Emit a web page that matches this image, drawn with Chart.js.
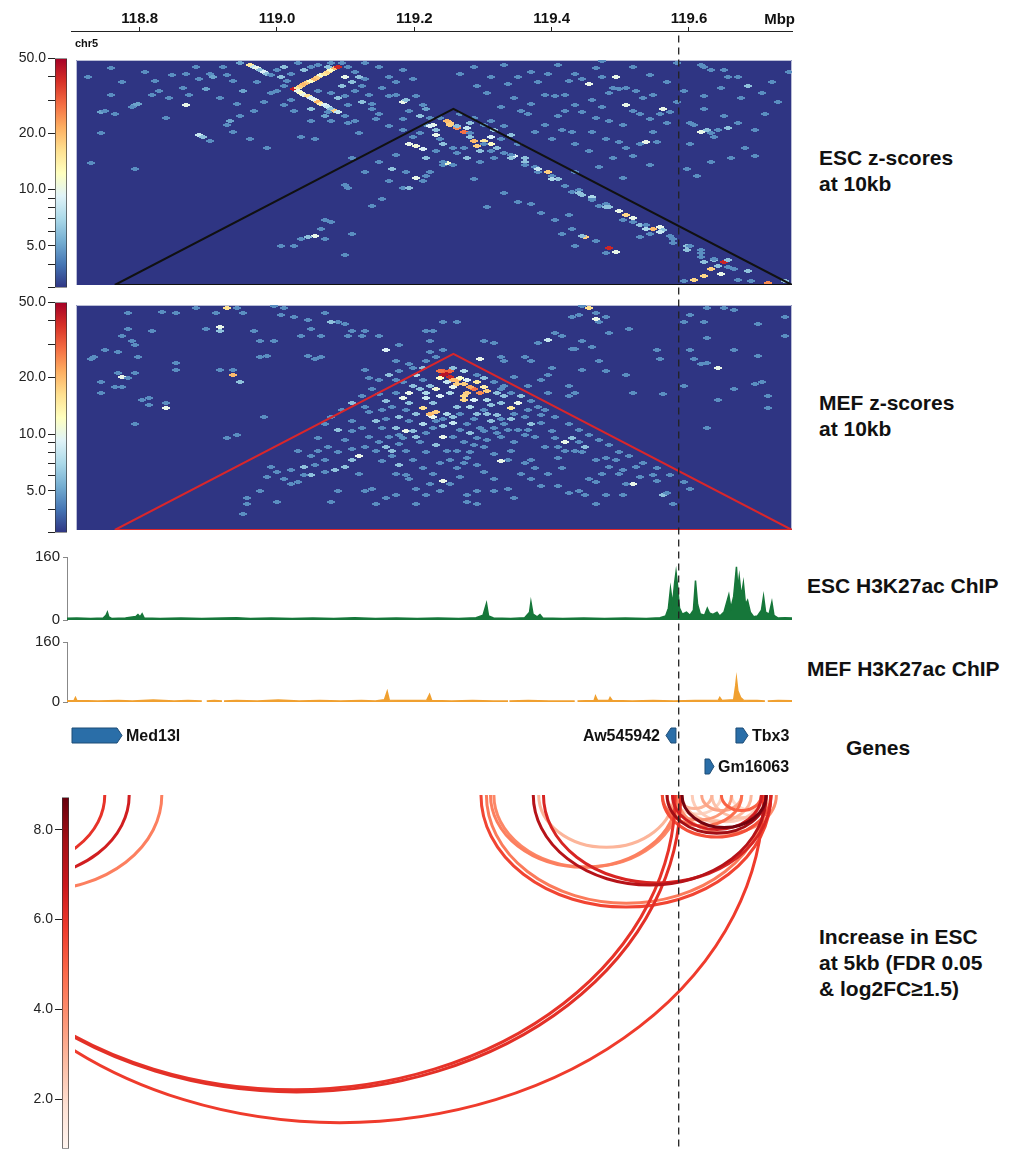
<!DOCTYPE html>
<html>
<head>
<meta charset="utf-8">
<script src="https://cdn.jsdelivr.net/npm/chart.js@4.4.1/dist/chart.umd.min.js"></script>
<style>
html, body { margin: 0; padding: 0; background: #fff; }
#page { position: relative; width: 1020px; height: 1151px; overflow: hidden; background: #fff;
        font-family: 'Liberation Sans', Arial, sans-serif; }
#page canvas { position: absolute; }
.lbl { position: absolute; font-weight: bold; font-size: 21px; line-height: 26px; color: #111; white-space: nowrap; }
</style>
</head>
<body>
<div id="page">
  <div class="lbl" style="left:819px;top:145px">ESC z-scores<br>at 10kb</div>
  <div class="lbl" style="left:819px;top:390px">MEF z-scores<br>at 10kb</div>
  <div class="lbl" style="left:807px;top:573px">ESC H3K27ac ChIP</div>
  <div class="lbl" style="left:807px;top:656px">MEF H3K27ac ChIP</div>
  <div class="lbl" style="left:846px;top:735px">Genes</div>
  <div class="lbl" style="left:819px;top:924px">Increase in ESC<br>at 5kb (FDR 0.05<br>&amp; log2FC≥1.5)</div>
</div>
<script>
// ---- region / axis
const X_START = 118.70, X_END = 119.75;
const AXIS_LEFT = 71, AXIS_RIGHT = 792;
const axisTicks = [118.8, 119.0, 119.2, 119.4, 119.6];
const DASH_POS = 119.585;
const BIN = 0.01;

// ---- hi-c z-scores, cells as [midpoint bin from X_START, distance in bins, z]
const HEAT_DEPTH = 1.277;
const tadStart = 118.75, tadEnd = 119.75;
const Z_MIN = 3, Z_MAX = 50;
const zTicksMajor = [5, 10, 20, 50];
const zTicksMinor = [3, 4, 6, 7, 8, 9, 30, 40];

const escCells = [
  [4.5,123,4.5],[13.5,119,4.5],[15.5,120,4.5],[19,120,4.5],[19.5,118,5],[21.5,119,4.5],[22.5,116,4.5],[17.5,117,4.5],[15,112,4.5],[4.5,108,4.5],
  [8,102,5],[8.5,103,5],[7.5,101,4.5],[3,98,5],[3.5,99,4.5],[5,97,4.5],[10.5,108,4.5],[11.5,110,4.5],[15.5,102,10],[12.5,95,4.5],
  [3,86,4.5],[1.5,69,4.5],[8,66,4.5],[17.5,85,8],[18,84,6],[19,82,4.5],[21.5,91,4.5],[22,93,5],[23.5,96,4.5],[22.5,87,4.5],
  [25,83,4.5],[27.5,78,4.5],[28,109,4.5],[25.5,99,4.5],[31.5,99,4.5],[32.5,84,4.5],[34.5,83,4.5],[34,93,4.5],[36,96,5],[37,93,4.5],
  [39.5,92,4.5],[40.5,93,4.5],[41,86,4.5],[43.5,94,4.5],[44,97,4.5],[45.5,107,4.5],[45.5,118,4.5],[49,117,4.5],[46.5,108,4.5],[47.5,104,10],
  [48,105,6],[49.5,107,4.5],[50.5,102,4.5],[51,100,5],[47.5,94,4.5],[51,91,4.5],
  [1,118,4.5],[6,115,4.5],[9.5,121,4.5],[11,116,4.5],[13,106,4.5],[16,108,4.5],[18.5,111,5],[20.5,106,4.5],[23,103,4.5],[24,110,5],
  [26,115,4.5],[27,104,4.5],[23.5,126,5],[21,124,4.5],[17,124,4.5],
  [31.5,111,42],[32,112,15],[32.5,113,18],[33,114,20],[33.5,115,18],[34,116,12],[34.5,117,20],[35,118,18],[35.5,119,11],[36,120,15],[36.5,121,17],[37,122,12],[37.5,123,20],[38,124,40],
  [32,110,10],[32.5,109,12],[33,108,10],[33.5,107,16],[34,106,9],[34.5,105,10],[35,104,20],[35.5,103,14],[36,102,9],[36.5,101,8],[37,100,6],[37.5,99,18],[38,98,8],
  [25,125,15],[25.5,124,8],[26,123,10],[26.5,122,6],[27,121,9],[27.5,120,6],
  [35,110,4.5],[37,109,4.5],[38,106,6],[39,107,4.5],[40.5,110,4.5],[41,118,6],[42,117,4.5],[40.5,121,4.5],[39,118,10],[38.5,126,4.5],
  [37,126,4.5],[35,125,4.5],[32,126,4.5],[29,122,4.5],[29.5,118,6],[30.5,116,4.5],[28,119,4.5],
  [30,124,6],[31,120,4.5],[33,122,6],[34,124,4.5],[36.5,124,6],[39.5,124,4.5],[40,115,6],[41.5,113,4.5],[42.5,108,4.5],[43,103,4.5],
  [41.5,104,6],[39.5,102,4.5],[38.5,113,6],[30,113,4.5],[29,110,4.5],[31,105,4.5],[30,102,4.5],[34,100,6],[36.5,98,4.5],[39,96,4.5],
  [43,100,4.5],[44.5,112,4.5],[46.5,115,4.5],[47.5,122,4.5],[44,124,4.5],[42,126,4.5],
  [48.5,99,4.5],[50,96,6],[51.5,95,4.5],[52.5,88,6],[50,86,4.5],[47.5,88,4.5],[45.5,90,4.5],[49,84,4.5],[53.5,80,6],[55,78,4.5],
  [51,72,6],[46.5,74,4.5],[44,70,4.5],[42,64,4.5],[46,66,6],
  [48.5,80,10],[49.5,79,11],[50.5,77,9],[49.5,61,10],[52.5,76,4.5],[53.5,68,4.5],[54,69,11],[52,91,10],[54.5,92,18],[53,83,4.5],
  [48,64,4.5],[51,62,4.5],[50.5,59,4.5],[45.5,59,4.5],[47.5,55,4.5],[48.5,55,6],[44.5,49,4.5],[43,45,4.5],[40,72,4.5],[39,57,4.5],[39.5,55,4.5],
  [36,37,4.5],[37,36,4.5],[35.5,32,4.5],[34.5,28,10],[33.5,27,6],[32.5,26,4.5],[31.5,22,4.5],[29.5,22,4.5],[36,26,4.5],[39,17,4.5],[40,29,4.5],
  [54,93,20],[54.5,91,18],[55.5,89,25],[56.5,87,28],[58,82,20],[58.5,79,18],[59.5,82,15],[60.5,80,12],[52.5,85,10],[51.5,90,9],
  [58,95,4.5],[59.5,91,4.5],[61,88,6],[62,83,4.5],[60.5,76,4.5],[59,76,6],[56.5,78,4.5],[55.5,75,4.5],[53.5,70,4.5],[51.5,64,4.5],
  [56,97,4.5],[57.5,92,6],[60.5,93,4.5],[62.5,90,4.5],[63.5,85,6],[64.5,80,4.5],[61,72,4.5],[59,70,4.5],[57,72,6],[55,68,4.5],
  [60.5,84,9],[57,89,8],[53,95,4.5],
  [62.5,75,4.5],[64,73,9],[65.5,72,6],[67,67,4.5],[67.5,64,4.5],[69,64,18],[70.5,60,6],[71.5,56,4.5],[72.5,53,4.5],[74,51,6],
  [75.5,49,4.5],[76.5,45,4.5],[78,44,6],[79.5,42,10],[80.5,40,17],[81.5,38,10],[80,37,4.5],[82.5,34,6],[84.5,32,20],[85.5,33,10],
  [86,31,6],[84,29,4.5],[82.5,27,4.5],[87,28,4.5],[74.5,27,18],[74,28,6],[76,25,4.5],[78,21,40],[79,19,10],[77.5,18,4.5],
  [72.5,32,4.5],[71,29,4.5],[73,22,4.5],[68,41,4.5],[62.5,52,4.5],[64.5,47,4.5],[58,60,4.5],
  [55.5,90,6],[57.5,86,4.5],[61.5,78,6],[63.5,74,4.5],[65.5,70,6],[67.5,66,8],[69.5,62,4.5],[73.5,54,4.5],[75.5,50,7],[77.5,46,4.5],
  [83.5,34,4.5],[85.5,30,8],[87.5,26,4.5],[89.5,22,6],[91.5,18,4.5],[93.5,14,6],[95.5,10,4.5],
  [57.5,84,6],[59.5,80,4.5],[63.5,72,6],[65.5,68,4.5],[69.5,60,7],[73.5,52,6],[75.5,48,4.5],[77.5,44,6],[81.5,36,4.5],[83.5,32,7],[87.5,24,4.5],[89.5,20,6],[91.5,16,4.5],
  [90,22,4.5],[91.5,20,4.5],[92,13,6],[93,9,18],[94,11,6],[95,13,40],[95.5,14,6],[93.5,15,4.5],[96.5,9,4.5],[92,5,17],
  [90.5,3,17],[89,2,4.5],[101.5,1,25],[104,2,6],[97,3,4.5],[99,2,4.5],[98.5,8,6],[94.5,6,10],
  [62.5,125,4.5],[58.5,113,4.5],[60,109,4.5],[68.5,108,4.5],[70,107,4.5],[71.5,108,4.5],[73,120,4.5],[74,117,4.5],[75,114,10],[76,123,4.5],
  [77,118,4.5],[77,127,4.5],[79,118,10],[78.5,112,4.5],[79.5,111,4.5],[78,109,4.5],[80.5,112,4.5],[82,110,4.5],[83,106,4.5],[84.5,108,4.5],
  [80.5,102,10],[86,100,10],[85.5,97,4.5],[87,98,4.5],[76,95,4.5],[78,93,4.5],[80,91,4.5],[81.5,99,4.5],[73,102,4.5],[74,98,4.5],
  [71.5,99,4.5],[70.5,96,4.5],[68.5,91,4.5],[66,97,4.5],[65,99,4.5],[71,88,4.5],[72.5,87,4.5],[75.5,87,4.5],[77.5,83,4.5],[79.5,81,4.5],
  [80.5,78,4.5],[82.5,80,4.5],[83.5,81,10],[85,81,4.5],[84.5,87,4.5],[81.5,73,4.5],[84,68,4.5],[80,61,4.5],[73,64,4.5],
  [56,120,4.5],[58,124,4.5],[60.5,118,4.5],[63,114,4.5],[64.5,118,4.5],[66.5,121,4.5],[67.5,115,4.5],[69,120,4.5],[70.5,125,4.5],[72,116,4.5],
  [75.5,105,4.5],[77,101,4.5],[82.5,97,4.5],[84,94,4.5],[86.5,92,4.5],[88,104,4.5],[89,110,4.5],[86.5,115,4.5],[84,119,4.5],[81.5,124,4.5],
  [88,126,4.5],[66.5,103,4.5],[64,106,4.5],[62,101,4.5],[67,87,4.5],[69.5,83,4.5],[73,80,4.5],[75,76,4.5],[78.5,72,4.5],[76.5,67,4.5],
  [90,92,4.5],[90.5,91,4.5],[91.5,87,10],[92.5,88,6],[93,86,4.5],[94,88,4.5],[95.5,89,6],[93.5,84,4.5],[90,80,4.5],[89.5,66,4.5],
  [98,78,4.5],[99.5,73,4.5],[98.5,113,6],[97.5,106,4.5],[91.5,125,4.5],[92,124,4.5],[93,122,4.5],[95,122,4.5],[95.5,118,4.5],[104.5,121,4.5],
  [92,100,4.5],[95,96,4.5],[97,92,4.5],[99.5,88,4.5],[101,97,4.5],[103,104,4.5],[100.5,109,4.5],[102,115,4.5],[97,118,4.5],[94.5,112,4.5],
  [92,107,4.5],[96,72,4.5],[93,70,4.5],[91,62,4.5],
  [70,37,4.5],[72,40,4.5],[66.5,46,4.5],[60,44,4.5]
];

const mefCells = [
  [54,89,45],[54.5,87,40],[53.5,90,30],[55.5,85,20],[56.5,83,18],[58,80,28],[59,78,25],[57,78,18],[56.5,76,17],[56.5,74,17],
  [60,79,18],[55,81,10],[52.5,67,18],[51.5,65,10],[52,64,10],[63.5,69,15],[64.5,72,10],[62.5,76,6],[60.5,71,6],[62,72,6],
  [53.5,88,45],[54.5,90,30],[53,90,28],[55,85,20],[57.5,81,22],[58.5,84,15],[55.5,83,18],[56,86,12],[59.5,81,14],[57,85,9],
  [54,84,8],[53,86,12],[51.5,66,20],[48.5,78,10],[47.5,75,10],[48.5,72,6],[50.5,69,16],[51.5,82,6],[53.5,53,10],[48,56,10],
  [49,56,6],[47,54,4.5],[45.5,53,4.5],[44,50,4.5],
  [50,80,6],[50.5,85,4.5],[49.5,88,7],[51,75,8],[52,72,6],[53,76,9],[54.5,78,7],[55.5,70,6],[56,66,4.5],[57.5,70,7],
  [58.5,66,6],[59.5,68,4.5],[60.5,62,6],[57,60,4.5],[55,61,8],[53.5,59,6],[52,58,4.5],[50.5,60,7],[49.5,66,6],[48,68,4.5],
  [47,64,6],[46,70,4.5],[45,73,6],[44.5,68,4.5],[46.5,78,4.5],[61.5,65,6],[62.5,60,4.5],[63.5,63,6],[65.5,64,4.5],[66.5,60,6],
  [64.5,57,4.5],[60,74,7],[61.5,78,6],[58,74,9],[52.5,80,11],[51,78,7],[49,82,6],[47.5,84,4.5],[56.5,90,7],[55,92,6],[58.5,88,4.5],
  [44,85,4.5],[45.5,88,6],[47,90,4.5],[48.5,94,4.5],[50.5,92,6],[43,80,4.5],[41.5,76,4.5],[40,72,6],[38.5,68,4.5],[37,64,4.5],
  [36,60,4.5],[38,57,6],[40,62,4.5],[42,70,4.5],[43.5,62,6],[44.5,58,4.5],[46.5,58,6],[48.5,62,4.5],[47,49,4.5],[45,47,6],
  [42,47,4.5],[40,46,4.5],[38,44,4.5],[36,40,4.5],[34.5,37,4.5],[33,36,6],[31,34,4.5],[29,33,4.5],[28,36,4.5],[44.5,39,4.5],
  [47,37,6],[49,40,4.5],[51,44,4.5],[52.5,48,6],[50,50,4.5],[48,45,4.5],[46,42,4.5],[50.5,35,4.5],[48,31,4.5],[52,32,4.5],
  [55.5,35,4.5],[57.5,44,4.5],[59.5,47,4.5],[60,51,4.5],[63,57,4.5],[66,57,4.5],[68,61,4.5],[69.5,56,4.5],[70,52,4.5],[68,65,4.5],
  [66,68,4.5],[64,66,4.5],[62,63,4.5],[60,66,6],[58,63,4.5],[59,58,4.5],[61.5,55,4.5],[57.5,55,6],[56,57,4.5],[55,64,6],
  [53.5,63,4.5],[54,66,7],[52.5,62,4.5],[51,55,4.5],[49.5,53,6],[47.5,52,4.5],[59.5,86,6],[61,84,4.5],[62.5,82,4.5],[63.5,78,4.5],
  [65,76,6],[66.5,73,4.5],[67.5,70,4.5],[68.5,68,4.5],[70,64,4.5],[72,60,4.5],[73.5,57,4.5],[75,54,4.5],[76.5,51,4.5],[78,48,4.5],
  [79.5,44,4.5],[81,42,4.5],[83,38,4.5],[85,35,4.5],[87,31,4.5],[89,27,4.5],[90,23,4.5],[85,28,4.5],[82.5,30,4.5],[80,34,4.5],
  [78,36,4.5],[71,35,4.5],[69,32,4.5],[67,35,4.5],
  [41,42,10],[40,40,6],[39,36,6],[37.5,34,6],[36,33,4.5],[34,31,6],[33,31,4.5],[32,27,4.5],[31,26,4.5],[30,29,4.5],
  [27.5,30,4.5],[26.5,22,4.5],[29,16,4.5],[24.5,18,4.5],[24.5,15,4.5],[24,9,4.5],[37,16,4.5],[42,22,4.5],[43.5,15,4.5],[46.5,32,4.5],
  [48.5,29,4.5],[49.5,23,4.5],[51.5,26,4.5],[53.5,28,10],[53,22,4.5],[51,20,4.5],[49.5,15,4.5],[46.5,20,4.5],[45,18,4.5],[43,23,4.5],
  [41,32,4.5],[38,22,4.5],[43.5,45,4.5],[46,45,6],[42.5,53,4.5],[41.5,58,4.5],[40,56,4.5],[39,51,4.5],[36.5,47,4.5],[35,45,4.5],[34,42,4.5],[32,45,4.5],
  [7,123,4.5],[12,124,4.5],[14,123,4.5],[17,126,4.5],[20,123,4.5],[21.5,126,16],[23,126,4.5],[24,123,4.5],[28.5,127,4.5],[29.5,122,4.5],
  [30,126,4.5],[31.5,121,4.5],[36,123,4.5],[38,118,4.5],[39,117,4.5],[37,118,6],[33.5,119,4.5],[34,114,4.5],[25.5,113,4.5],[20.5,115,10],
  [20.5,113,6],[18.5,114,4.5],[10.5,113,4.5],[6,110,4.5],[7,114,4.5],[7.5,107,4.5],[8,105,4.5],[2,98,4.5],[1.5,97,4.5],[3.5,102,4.5],
  [5.5,101,4.5],[8.5,98,4.5],[14,95,4.5],[14,91,4.5],[6,87,10],[5.5,89,4.5],[7,86,4.5],[8,89,4.5],[3,84,4.5],[5,81,4.5],
  [6,81,4.5],[3,78,4.5],[9,74,4.5],[10,75,4.5],[12.5,72,4.5],[12.5,69,10],[10,71,4.5],[8,60,4.5],[20.5,91,4.5],[22.5,91,4.5],
  [22.5,88,20],[23.5,84,6],[21.5,52,4.5],[23,54,4.5],[27,64,4.5],[26.5,98,4.5],[27.5,99,4.5],[33.5,99,4.5],[34.5,97,4.5],[35.5,98,4.5],
  [26.5,107,4.5],[28.5,107,4.5],[32.5,110,4.5],[35.5,110,4.5],[40,113,4.5],[39.5,110,4.5],[41.5,110,4.5],[42,113,4.5],[44,110,4.5],[45,102,9],
  [46.5,96,4.5],[42,91,4.5],[42.5,86,4.5],[44,77,4.5],[42.5,67,4.5],[45,63,4.5],[46.5,85,4.5],[49,92,4.5],[51,96,4.5],[51.5,101,4.5],
  [52.5,98,4.5],[53.5,102,4.5],[51,113,4.5],[51.5,107,4.5],[47,105,4.5],[35,52,4.5],
  [52,113,4.5],[53.5,118,4.5],[55.5,118,4.5],[59.5,107,4.5],[61,106,4.5],[59,97,10],[62,98,4.5],[62.5,96,4.5],[65.5,98,4.5],[66.5,96,4.5],
  [68,85,4.5],[66,82,4.5],[64,87,4.5],[62,80,4.5],[69,78,4.5],[72,76,4.5],[73,78,4.5],[72,82,4.5],[74,91,4.5],[72.5,103,4.5],
  [74,107,4.5],[75.5,104,4.5],[76.5,96,4.5],[77.5,90,4.5],[80.5,88,4.5],[81.5,78,4.5],[86,77,4.5],[85,102,4.5],[85.5,97,4.5],[81,114,4.5],
  [78,112,4.5],[76.5,118,4.5],[76,123,4.5],[75,126,16],[74,127,4.5],[77.5,121,4.5],[76,120,10],[72.5,121,4.5],[73.5,122,4.5],[69,108,8],
  [67.5,106,4.5],[70,112,4.5],[71,110,4.5],[73,103,4.5],[69.5,92,4.5],[69,88,4.5],
  [71.5,50,10],[72.5,52,6],[73.5,50,4.5],[74.5,47,6],[74,44,4.5],[73,45,4.5],[70.5,41,4.5],[71.5,45,4.5],[70.5,47,4.5],[76,40,4.5],
  [77.5,41,4.5],[79,40,4.5],[79.5,32,4.5],[77,32,4.5],[75,29,4.5],[76,27,4.5],[81.5,26,10],[80.5,26,4.5],[82,36,4.5],[84.5,31,4.5],
  [86,20,6],[86.5,21,4.5],[87.5,15,4.5],[80,20,4.5],[77.5,20,4.5],[76,15,4.5],[74.5,20,4.5],[73.5,22,4.5],[72,21,4.5],[70.5,25,4.5],
  [68,25,4.5],[66.5,29,4.5],[65,32,4.5],[65.5,38,4.5],[66.5,40,4.5],[68.5,47,4.5],[67,53,4.5],[65.5,54,4.5],[64,50,4.5],[63.5,45,4.5],
  [63,40,4.5],[62,39,10],[61,43,4.5],[62,53,4.5],[61,58,4.5],[59.5,56,4.5],[58.5,52,4.5],[58,48,4.5],[56.5,50,4.5],[55,53,4.5],
  [55.5,45,4.5],[54,45,4.5],[53,38,4.5],[54.5,40,4.5],[56.5,38,4.5],[57,41,4.5],[58.5,37,4.5],[59.5,33,4.5],[56,30,4.5],[54.5,26,4.5],
  [57,20,4.5],[58.5,22,4.5],[61,29,4.5],[61,22,4.5],[63,23,4.5],[64,18,4.5],[58.5,15,4.5],[57,16,4.5],
  [90,122,4.5],[92.5,126,4.5],[95,126,4.5],[96.5,125,4.5],[100,117,4.5],[104,121,4.5],[104,110,4.5],[89,118,4.5],[92,118,4.5],[90,102,4.5],
  [92.5,109,4.5],[96.5,102,4.5],[100,99,4.5],[90.5,97,4.5],[91.5,94,4.5],[92.5,95,4.5],[94,92,10],[100.5,84,4.5],[99.5,83,4.5],[96.5,80,4.5],
  [94,74,4.5],[101.5,76,4.5],[101.5,69,4.5],[92.5,58,4.5],[89,82,4.5]
];

// ---- H3K27ac coverage [position Mbp, signal]
const chipTicks = [0, 160];
const escChip = [
  [118.700,4],[118.720,5],[118.740,4],[118.758,5],[118.762,12],[118.764,20],[118.766,8],[118.770,4],[118.790,5],[118.805,9],
  [118.808,14],[118.811,8],[118.814,16],[118.817,5],[118.840,4],[118.870,5],[118.900,4],[118.930,5],[118.950,6],[118.970,4],
  [119.000,5],[119.030,4],[119.060,5],[119.090,4],[119.120,6],[119.150,4],[119.180,5],[119.210,4],[119.240,5],[119.270,4],
  [119.295,6],[119.305,12],[119.310,42],[119.313,10],[119.320,5],[119.345,4],[119.365,6],[119.372,20],[119.374,46],[119.377,15],
  [119.383,8],[119.387,14],[119.391,5],[119.420,4],[119.450,5],[119.480,4],[119.510,5],[119.540,4],[119.560,6],[119.568,10],
  [119.572,30],[119.575,80],[119.578,40],[119.581,95],[119.583,122],[119.585,90],[119.588,30],[119.592,15],[119.598,20],[119.603,12],
  [119.608,25],[119.611,100],[119.614,40],[119.618,15],[119.624,12],[119.628,30],[119.631,18],[119.636,14],[119.642,20],[119.646,10],
  [119.652,20],[119.656,45],[119.659,64],[119.662,30],[119.666,60],[119.670,135],[119.672,80],[119.674,110],[119.677,60],[119.680,94],
  [119.683,40],[119.686,50],[119.690,20],[119.695,8],[119.700,10],[119.706,25],[119.709,60],[119.712,20],[119.717,15],[119.721,46],
  [119.724,12],[119.730,5],[119.740,6],[119.750,5]
];
const mefChip = [
  [118.700,3],[118.716,4],[118.718,12],[118.720,4],[118.750,3],[118.780,4],[118.800,3],[118.830,5],[118.860,3],[118.880,4],
  [118.900,3],[118.901,null],[118.907,3],[118.918,4],[118.929,3],[118.930,null],[118.932,3],[118.950,4],[118.980,3],[119.010,5],
  [119.040,3],[119.070,4],[119.100,3],[119.130,4],[119.150,3],[119.163,6],[119.167,28],[119.170,5],[119.200,4],[119.224,5],
  [119.228,20],[119.231,4],[119.260,3],[119.290,4],[119.320,3],[119.341,3],[119.342,null],[119.343,3],[119.370,4],[119.400,3],
  [119.437,3],[119.439,null],[119.441,3],[119.465,4],[119.467,16],[119.470,4],[119.486,4],[119.488,12],[119.491,4],[119.520,3],
  [119.550,4],[119.580,3],[119.610,4],[119.644,5],[119.646,12],[119.649,4],[119.666,6],[119.669,45],[119.670,62],[119.672,30],
  [119.676,12],[119.680,5],[119.700,4],[119.711,3],[119.713,null],[119.715,3],[119.730,4],[119.750,3]
];

// ---- genes
const geneNames  = ['Med13l', 'Aw545942', 'Tbx3', 'Gm16063'];
const geneStarts = [118.600, 119.5665, 119.6684, 119.6233];
const geneEnds   = [118.7743, 119.5810, 119.6859, 119.6364];
const geneStrand = ['+', '-', '+', '+'];
const geneRow    = [0, 0, 0, 1];

// ---- differential contacts (arcs)
const arcStarts = [118.46, 118.46, 118.46, 118.455, 118.455, 118.46, 119.292, 119.300, 119.306, 119.311, 119.369, 119.384, 119.377,
                   119.559, 119.566, 119.574, 119.581, 119.588, 119.603, 119.617, 119.632, 119.646, 119.566, 119.574, 119.581, 119.661, 119.559, 119.588];
const arcEnds   = [118.738, 118.774, 118.822, 119.578, 119.586, 119.708, 119.719, 119.712, 119.581, 119.585, 119.712, 119.719, 119.576,
                   119.719, 119.712, 119.705, 119.727, 119.690, 119.705, 119.676, 119.719, 119.705, 119.661, 119.646, 119.632, 119.719, 119.676, 119.712];
const arcScores = [6.0, 6.6, 4.3, 6.0, 6.1, 5.8, 5.6, 4.4, 4.3, 4.1, 7.3, 6.4, 3.0,
                   5.4, 7.8, 6.6, 3.9, 2.9, 2.4, 3.4, 2.7, 5.0, 3.7, 2.2, 3.0, 2.0, 4.7, 8.5];
const ARC_VMIN = 0.9, ARC_VMAX = 8.72, ARC_YMAX = 0.678;
const arcTicks = [2, 4, 6, 8];

// ---- colours
const HEAT_BG = '#2f3583';
const RDYLBU_R = ['#2f3583','#4575b4','#74add1','#abd9e9','#e0f3f8','#ffffbf','#fee090','#fdae61','#f46d43','#d73027','#a50026'];
const REDS = ['#fff5f0','#fee0d2','#fcbba1','#fc9272','#fb6a4a','#ef3b2c','#cb181d','#a50f15','#67000d'];
const FONT = "'Liberation Sans', Arial, sans-serif";
Chart.defaults.font.family = FONT;

function rgb(h) { return [1, 3, 5].map(i => parseInt(h.substr(i, 2), 16)); }
function ramp(stops, t) {
  t = Math.max(0, Math.min(1, t));
  const n = stops.length - 1, i = Math.min(n - 1, Math.floor(t * n)), f = t * n - i;
  const a = rgb(stops[i]), b = rgb(stops[i + 1]);
  return 'rgb(' + a.map((v, k) => Math.round(v + (b[k] - v) * f)).join(',') + ')';
}
const zColor = z => ramp(RDYLBU_R, Math.log(z / Z_MIN) / Math.log(Z_MAX / Z_MIN));
const arcColor = v => ramp(REDS, (v - ARC_VMIN) / (ARC_VMAX - ARC_VMIN));

const cellCache = {};
function cellImage(color) {
  if (!cellCache[color]) {
    const c = document.createElement('canvas');
    c.width = 8; c.height = 4;
    const g = c.getContext('2d');
    g.fillStyle = color;
    g.fillRect(2, 0, 4, 1); g.fillRect(0, 1, 8, 2); g.fillRect(2, 3, 4, 1);
    cellCache[color] = c;
  }
  return cellCache[color];
}

const page = document.getElementById('page');
function mk(left, top, w, h) {
  const c = document.createElement('canvas');
  c.width = w; c.height = h;
  c.style.left = left + 'px'; c.style.top = top + 'px';
  page.appendChild(c);
  return c;
}
// x-scale whose chart area starts at pixel leftPx while sharing the global axis
const xMinFor = leftPx => X_START - (leftPx - AXIS_LEFT) * (X_END - X_START) / (AXIS_RIGHT - AXIS_LEFT);
const base = { responsive: false, animation: false, events: [], plugins: { legend: { display: false }, tooltip: { enabled: false } } };

// ---- heatmaps
const heatBg = {
  id: 'heatBg',
  beforeDatasetsDraw(chart) {
    const { ctx, chartArea: a } = chart;
    ctx.save();
    ctx.fillStyle = HEAT_BG;
    ctx.fillRect(a.left, a.top, a.width, a.height);
    ctx.strokeStyle = '#b9bdd6';
    ctx.lineWidth = 1;
    ctx.beginPath();
    ctx.moveTo(a.left + 0.5, a.bottom); ctx.lineTo(a.left + 0.5, a.top + 0.5);
    ctx.lineTo(a.right - 0.5, a.top + 0.5); ctx.lineTo(a.right - 0.5, a.bottom);
    ctx.stroke();
    ctx.restore();
    ctx.imageSmoothingEnabled = false;
  }
};
function heatChart(top, cells, triColor) {
  const left = 76;
  new Chart(mk(0, top, AXIS_RIGHT + 8, 235), {
    type: 'scatter',
    data: { datasets: [
      { type: 'line', order: 0, borderColor: triColor, borderWidth: 2, pointRadius: 0, fill: false,
        data: [{ x: tadStart, y: 0 }, { x: (tadStart + tadEnd) / 2, y: tadEnd - tadStart }, { x: tadEnd, y: 0 }, { x: tadStart, y: 0 }] },
      { order: 1, pointRadius: 3,
        pointStyle: c => cellImage(zColor(c.raw ? c.raw.z : Z_MIN)),
        data: cells.map(c => ({ x: X_START + c[0] * BIN, y: c[1] * BIN, z: c[2] })) }
    ] },
    options: { ...base,
      layout: { padding: { left: left, right: 8, top: 0, bottom: 0 } },
      scales: {
        x: { type: 'linear', display: false, min: xMinFor(left), max: X_END },
        y: { type: 'linear', display: false, min: 0, max: HEAT_DEPTH }
      } },
    plugins: [heatBg]
  });
}
heatChart(55, escCells, '#111111');
heatChart(300, mefCells, '#d9262b');

// ---- colour bars
function colorBar(left, top, w, h, axisW, stops, yScale) {
  new Chart(mk(left, top, w, h), {
    type: 'bar',
    data: { labels: [''], datasets: [{
      data: [[yScale.min, yScale.max]], barPercentage: 1, categoryPercentage: 1,
      borderWidth: 1, borderColor: '#333', borderSkipped: false,
      backgroundColor: c => {
        const a = c.chart.chartArea;
        if (!a) return stops[0];
        const g = c.chart.ctx.createLinearGradient(0, a.bottom, 0, a.top);
        stops.forEach((s, i) => g.addColorStop(i / (stops.length - 1), s));
        return g;
      } }] },
    options: { ...base,
      layout: { padding: { top: 8, bottom: 8, right: 1, left: 0 } },
      scales: {
        x: { display: false },
        y: Object.assign({ position: 'left', afterFit: s => { s.width = axisW; },
          grid: { drawOnChartArea: false, drawTicks: true, tickLength: 7, color: '#222' },
          border: { display: false } }, yScale)
      } }
  });
}
const zAxis = {
  type: 'logarithmic', min: Z_MIN, max: Z_MAX,
  afterBuildTicks: s => { s.ticks = zTicksMajor.concat(zTicksMinor).sort((a, b) => a - b).map(v => ({ value: v })); },
  ticks: { autoSkip: false, padding: 2, color: '#222', font: { size: 14 },
           callback: v => zTicksMajor.includes(v) ? v.toFixed(1) : '' }
};
colorBar(0, 48, 68, 250, 55, RDYLBU_R, zAxis);
colorBar(0, 292, 68, 251, 55, RDYLBU_R, zAxis);
colorBar(0, 787, 70, 372, 62, REDS, {
  type: 'linear', min: ARC_VMIN, max: ARC_VMAX,
  afterBuildTicks: s => { s.ticks = arcTicks.map(v => ({ value: v })); },
  ticks: { autoSkip: false, padding: 2, color: '#222', font: { size: 14 }, callback: v => v.toFixed(1) }
});

// ---- ChIP tracks
function chipChart(top, height, data, color) {
  const left = 67;
  new Chart(mk(0, top, AXIS_RIGHT + 8, height), {
    type: 'line',
    data: { datasets: [{ data: data.map(p => ({ x: p[0], y: p[1] })), borderColor: color, backgroundColor: color,
      borderWidth: 1.5, pointRadius: 0, fill: 'origin', spanGaps: false, tension: 0 }] },
    options: { ...base,
      layout: { padding: { top: 7, bottom: 8, right: 8, left: 0 } },
      scales: {
        x: { type: 'linear', display: false, min: xMinFor(left), max: X_END },
        y: { type: 'linear', min: 0, max: 160, afterFit: s => { s.width = left; },
             afterBuildTicks: s => { s.ticks = chipTicks.map(v => ({ value: v })); },
             ticks: { padding: 3, color: '#222', font: { size: 15 } },
             grid: { drawOnChartArea: false, tickLength: 4, color: '#888' },
             border: { display: true, color: '#888' } }
      } }
  });
}
chipChart(545, 87, escChip, '#16773a');
chipChart(630, 84, mefChip, '#f0a030');

// ---- genes
const genePlugin = {
  id: 'genes',
  afterDatasetsDraw(chart) {
    const { ctx, chartArea: a, scales: { x, y } } = chart;
    ctx.save();
    geneNames.forEach((name, i) => {
      const x0 = Math.max(x.getPixelForValue(geneStarts[i]), a.left + 1);
      const x1 = Math.min(x.getPixelForValue(geneEnds[i]), a.right);
      const yc = y.getPixelForValue(geneRow[i] + 0.5);
      const h = 15, tip = Math.min(5, (x1 - x0) / 2);
      ctx.beginPath();
      if (geneStrand[i] === '+') {
        ctx.moveTo(x0, yc - h / 2); ctx.lineTo(x1 - tip, yc - h / 2); ctx.lineTo(x1, yc);
        ctx.lineTo(x1 - tip, yc + h / 2); ctx.lineTo(x0, yc + h / 2);
      } else {
        ctx.moveTo(x1, yc - h / 2); ctx.lineTo(x0 + tip, yc - h / 2); ctx.lineTo(x0, yc);
        ctx.lineTo(x0 + tip, yc + h / 2); ctx.lineTo(x1, yc + h / 2);
      }
      ctx.closePath();
      ctx.fillStyle = '#2a6ea8'; ctx.fill();
      ctx.strokeStyle = '#1d4c76'; ctx.lineWidth = 1; ctx.stroke();
      ctx.fillStyle = '#111';
      ctx.font = 'bold 16px ' + FONT;
      ctx.textBaseline = 'middle';
      if (geneStrand[i] === '-') { ctx.textAlign = 'right'; ctx.fillText(name, x0 - 6, yc + 1); }
      else { ctx.textAlign = 'left'; ctx.fillText(name, x1 + 4, yc + 1); }
    });
    ctx.restore();
  }
};
new Chart(mk(0, 720, AXIS_RIGHT + 8, 62), {
  type: 'scatter', data: { datasets: [] },
  options: { ...base, layout: { padding: { left: AXIS_LEFT, right: 8 } },
    scales: { x: { type: 'linear', display: false, min: X_START, max: X_END },
              y: { type: 'linear', display: false, min: 0, max: 2, reverse: true } } },
  plugins: [genePlugin]
});

// ---- arcs (hang down from the top of the track)
const arcPlugin = {
  id: 'arcs',
  afterDatasetsDraw(chart) {
    const { ctx, chartArea: a, scales: { x, y } } = chart;
    const order = arcScores.map((v, i) => i).sort((p, q) => arcScores[p] - arcScores[q]);
    ctx.save();
    ctx.beginPath(); ctx.rect(a.left, a.top, a.width, a.height); ctx.clip();
    ctx.lineWidth = 3;
    order.forEach(i => {
      const px0 = x.getPixelForValue(arcStarts[i]), px1 = x.getPixelForValue(arcEnds[i]);
      const y0 = y.getPixelForValue(0);
      const ry = Math.abs(y.getPixelForValue((arcEnds[i] - arcStarts[i]) / 2) - y0);
      ctx.beginPath();
      ctx.ellipse((px0 + px1) / 2, y0, Math.abs(px1 - px0) / 2, ry, 0, 0, Math.PI);
      ctx.strokeStyle = arcColor(arcScores[i]);
      ctx.stroke();
    });
    ctx.restore();
  }
};
new Chart(mk(0, 795, AXIS_RIGHT + 8, 356), {
  type: 'scatter', data: { datasets: [] },
  options: { ...base, layout: { padding: { left: 75, right: 8 } },
    scales: { x: { type: 'linear', display: false, min: xMinFor(75), max: X_END },
              y: { type: 'linear', display: false, min: 0, max: ARC_YMAX, reverse: true } } },
  plugins: [arcPlugin]
});

// ---- overlay: genome axis, dashed marker
const overlayText = {
  id: 'overlayText',
  afterDraw(chart) {
    const { ctx } = chart;
    ctx.save();
    ctx.fillStyle = '#111';
    ctx.textBaseline = 'middle';
    ctx.font = 'bold 11px ' + FONT; ctx.textAlign = 'left';
    ctx.fillText('chr5', 75, 44);
    ctx.font = 'bold 15px ' + FONT; ctx.textAlign = 'right';
    ctx.fillText('Mbp', 795, 20);
    ctx.restore();
  }
};
const ov = mk(0, 0, 1020, 1151);
ov.style.pointerEvents = 'none';
new Chart(ov, {
  type: 'scatter',
  data: { datasets: [{ type: 'line', data: [{ x: DASH_POS, y: 0.004 }, { x: DASH_POS, y: 1 }],
    borderColor: '#222', borderWidth: 1.3, borderDash: [7, 5], pointRadius: 0, fill: false }] },
  options: { ...base,
    layout: { padding: { left: AXIS_LEFT, right: 1020 - AXIS_RIGHT, top: 0, bottom: 0 } },
    scales: {
      x: { type: 'linear', position: 'top', min: X_START, max: X_END,
           afterFit: s => { s.height = 31; },
           afterBuildTicks: s => { s.ticks = axisTicks.map(v => ({ value: v })); },
           ticks: { padding: -1, color: '#111', font: { size: 15, weight: 'bold' }, callback: v => v.toFixed(1) },
           grid: { drawOnChartArea: false, tickLength: 4, color: '#222' },
           border: { display: true, color: '#222' } },
      y: { type: 'linear', display: false, min: 0, max: 1, reverse: true }
    } },
  plugins: [overlayText]
});
</script>
</body>
</html>
